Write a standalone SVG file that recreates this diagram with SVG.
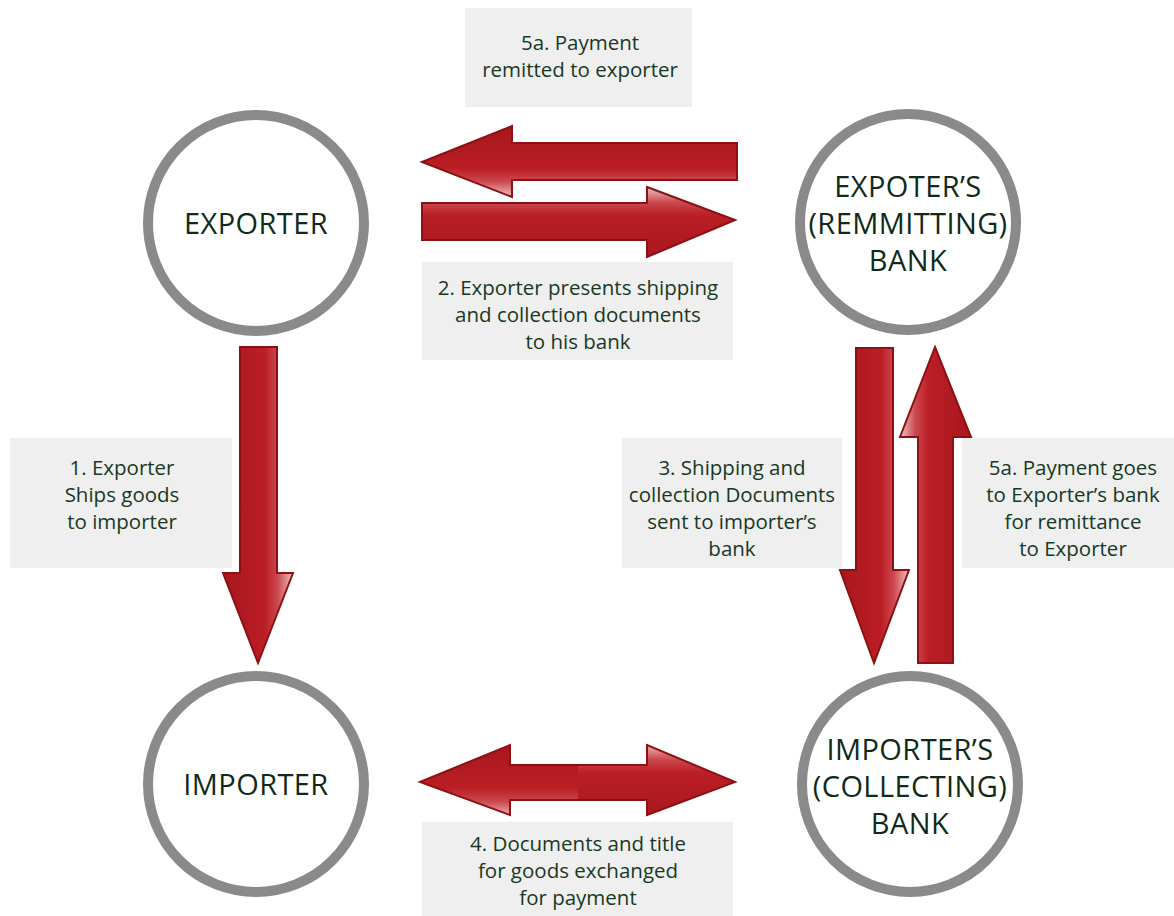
<svg xmlns="http://www.w3.org/2000/svg" width="1174" height="916" viewBox="0 0 1174 916">
  <defs>
    <style>
      .ring { fill: #ffffff; stroke: #8a8a8a; stroke-width: 10; }
      .node-label { font-family: "Open Sans", "Liberation Sans", sans-serif; font-size: 29px; letter-spacing: 0.4px; fill: #0f2b18; text-anchor: middle; }
      .box { fill: #efeff0; }
      .lbl { font-family: "Open Sans", "Liberation Sans", sans-serif; font-size: 20.5px; fill: #17391f; text-anchor: middle; }
      .arrow { stroke: #8e1015; stroke-width: 2; stroke-linejoin: miter; }
    </style>
    <linearGradient id="gLightTop" x1="0" y1="0" x2="0" y2="1">
      <stop offset="0" stop-color="#ecc3c3"/>
      <stop offset="0.22" stop-color="#cb484e"/>
      <stop offset="0.4" stop-color="#bb1e25"/>
      <stop offset="1" stop-color="#a8171d"/>
    </linearGradient>
    <linearGradient id="gLightBottom" x1="0" y1="1" x2="0" y2="0">
      <stop offset="0" stop-color="#ecc3c3"/>
      <stop offset="0.22" stop-color="#cb484e"/>
      <stop offset="0.4" stop-color="#bb1e25"/>
      <stop offset="1" stop-color="#a8171d"/>
    </linearGradient>
    <linearGradient id="gLightRight" x1="1" y1="0" x2="0" y2="0">
      <stop offset="0" stop-color="#ecc3c3"/>
      <stop offset="0.22" stop-color="#cb484e"/>
      <stop offset="0.4" stop-color="#bb1e25"/>
      <stop offset="1" stop-color="#a8171d"/>
    </linearGradient>
    <linearGradient id="gLightLeft" x1="0" y1="0" x2="1" y2="0">
      <stop offset="0" stop-color="#ecc3c3"/>
      <stop offset="0.22" stop-color="#cb484e"/>
      <stop offset="0.4" stop-color="#bb1e25"/>
      <stop offset="1" stop-color="#a8171d"/>
    </linearGradient>
    <clipPath id="clipDouble">
      <path d="M420,782 L510,745 L510,765 L647,765 L647,745 L735,782 L647,815 L647,800 L510,800 L510,815 Z"/>
    </clipPath>
  </defs>

  <rect width="1174" height="916" fill="#ffffff"/>

  <!-- label boxes -->
  <g id="label-5a-top">
    <rect class="box" x="465" y="8" width="227" height="99"/>
    <text class="lbl" x="580" y="50">5a. Payment</text>
    <text class="lbl" x="580" y="77">remitted to exporter</text>
  </g>
  <g id="label-2">
    <rect class="box" x="422" y="262" width="311" height="98"/>
    <text class="lbl" x="578" y="295">2. Exporter presents shipping</text>
    <text class="lbl" x="578" y="322">and collection documents</text>
    <text class="lbl" x="578" y="349">to his bank</text>
  </g>
  <g id="label-1">
    <rect class="box" x="10" y="438" width="222" height="130"/>
    <text class="lbl" x="122" y="475">1. Exporter</text>
    <text class="lbl" x="122" y="502">Ships goods</text>
    <text class="lbl" x="122" y="529">to importer</text>
  </g>
  <g id="label-3">
    <rect class="box" x="622" y="438" width="220" height="130"/>
    <text class="lbl" x="732" y="475">3. Shipping and</text>
    <text class="lbl" x="732" y="502">collection Documents</text>
    <text class="lbl" x="732" y="529">sent to importer’s</text>
    <text class="lbl" x="732" y="556">bank</text>
  </g>
  <g id="label-5a-right">
    <rect class="box" x="962" y="438" width="212" height="130"/>
    <text class="lbl" x="1073" y="475">5a. Payment goes</text>
    <text class="lbl" x="1073" y="502">to Exporter’s bank</text>
    <text class="lbl" x="1073" y="529">for remittance</text>
    <text class="lbl" x="1073" y="556">to Exporter</text>
  </g>
  <g id="label-4">
    <rect class="box" x="422" y="822" width="311" height="94"/>
    <text class="lbl" x="578" y="851">4. Documents and title</text>
    <text class="lbl" x="578" y="878">for goods exchanged</text>
    <text class="lbl" x="578" y="905">for payment</text>
  </g>

  <!-- connectors -->
  <g id="connectors">
    <path id="arrow-5a-top" class="arrow" fill="url(#gLightBottom)" d="M422,162 L512,126 L512,143 L737,143 L737,180 L512,180 L512,197 Z"/>
    <path id="arrow-2" class="arrow" fill="url(#gLightTop)" d="M735,220 L647,187 L647,203 L422,203 L422,240 L647,240 L647,257 Z"/>
    <path id="arrow-1" class="arrow" fill="url(#gLightRight)" d="M258,663 L223,573 L240,573 L240,347 L277,347 L277,573 L293,573 Z"/>
    <path id="arrow-3" class="arrow" fill="url(#gLightRight)" d="M874,663 L840,570 L856,570 L856,348 L893,348 L893,570 L909,570 Z"/>
    <path id="arrow-5a-up" class="arrow" fill="url(#gLightLeft)" d="M935,347 L900,437 L918,437 L918,663 L953,663 L953,437 L971,437 Z"/>
    <g id="arrow-4">
      <path fill="#bb1e25" d="M420,782 L510,745 L510,765 L647,765 L647,745 L735,782 L647,815 L647,800 L510,800 L510,815 Z"/>
      <g clip-path="url(#clipDouble)">
        <rect x="418" y="743" width="160" height="75" fill="url(#gLightBottom)"/>
        <rect x="578" y="743" width="160" height="75" fill="url(#gLightTop)"/>
      </g>
      <path class="arrow" fill="none" d="M420,782 L510,745 L510,765 L647,765 L647,745 L735,782 L647,815 L647,800 L510,800 L510,815 Z"/>
    </g>
  </g>

  <!-- nodes -->
  <g id="node-exporter">
    <circle class="ring" cx="256" cy="223" r="108"/>
    <text class="node-label" x="256" y="234">EXPORTER</text>
  </g>
  <g id="node-remitting-bank">
    <circle class="ring" cx="908" cy="222" r="108"/>
    <text class="node-label" x="908" y="197">EXPOTER’S</text>
    <text class="node-label" x="908" y="234">(REMMITTING)</text>
    <text class="node-label" x="908" y="271">BANK</text>
  </g>
  <g id="node-importer">
    <circle class="ring" cx="256" cy="784" r="108"/>
    <text class="node-label" x="256" y="795">IMPORTER</text>
  </g>
  <g id="node-collecting-bank">
    <circle class="ring" cx="910" cy="784" r="108"/>
    <text class="node-label" x="910" y="760">IMPORTER’S</text>
    <text class="node-label" x="910" y="797">(COLLECTING)</text>
    <text class="node-label" x="910" y="834">BANK</text>
  </g>
</svg>
